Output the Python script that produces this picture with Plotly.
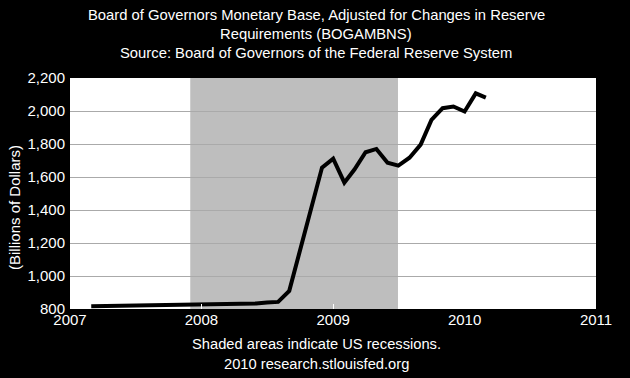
import plotly.graph_objects as go

dates = [
    "2007-03-01", "2007-04-01", "2007-05-01", "2007-06-01", "2007-07-01", "2007-08-01",
    "2007-09-01", "2007-10-01", "2007-11-01", "2007-12-01",
    "2008-01-01", "2008-02-01", "2008-03-01", "2008-04-01", "2008-05-01", "2008-06-01",
    "2008-07-01", "2008-08-01", "2008-09-01", "2008-10-01", "2008-11-01", "2008-12-01",
    "2009-01-01", "2009-02-01", "2009-03-01", "2009-04-01", "2009-05-01", "2009-06-01",
    "2009-07-01", "2009-08-01", "2009-09-01", "2009-10-01", "2009-11-01", "2009-12-01",
    "2010-01-01", "2010-02-01", "2010-03-01",
]
values = [
    817, 818, 819, 822, 822, 821, 823, 822, 824, 828,
    827, 826, 826, 828, 830, 834, 840, 843, 910, 1150, 1420, 1657,
    1711, 1566, 1645, 1750, 1770, 1687, 1669, 1717, 1796, 1946, 2017, 2027,
    1997, 2107, 2081,
]
recession_start = "2007-12-01"
recession_end = "2009-06-30"

x_tickvals = ["2007-01-01", "2008-01-01", "2009-01-01", "2010-01-01", "2011-01-01"]
x_ticktext = ["2007", "2008", "2009", "2010", "2011"]
y_tickvals = [800, 1000, 1200, 1400, 1600, 1800, 2000, 2200]
y_ticktext = ["800", "1,000", "1,200", "1,400", "1,600", "1,800", "2,000", "2,200"]

title_lines = [
    "Board of Governors Monetary Base, Adjusted for Changes in Reserve",
    "Requirements (BOGAMBNS)",
    "Source: Board of Governors of the Federal Reserve System",
]
footer_lines = ["Shaded areas indicate US recessions.", "2010 research.stlouisfed.org"]
y_title = "(Billions of Dollars)"

FONT = "Arial, Liberation Sans, sans-serif"

fig = go.Figure()
fig.add_trace(go.Scatter(
    x=dates, y=values, mode="lines",
    line=dict(color="black", width=4),
    hoverinfo="skip", showlegend=False,
))

fig.add_shape(type="rect", xref="x", yref="paper",
              x0=recession_start, x1=recession_end, y0=0, y1=1,
              fillcolor="#BEBEBE", line=dict(width=0), layer="between")

W, H = 630, 378
ml, mr, mt, mb = 70, 34, 78, 69
ph = H - mt - mb
pw = W - ml - mr

def py(ypix):
    return (H - mb - ypix) / ph

def px(xpix):
    return (xpix - ml) / pw

annotations = []
for t, yy in zip(title_lines, [15, 34, 53]):
    annotations.append(dict(text=t, x=px(316), xref="paper", y=py(yy), yref="paper",
                            xanchor="center", yanchor="middle", showarrow=False,
                            font=dict(family=FONT, size=14.8, color="white")))
for t, yy in zip(footer_lines, [344, 364]):
    annotations.append(dict(text=t, x=px(316), xref="paper", y=py(yy), yref="paper",
                            xanchor="center", yanchor="middle", showarrow=False,
                            font=dict(family=FONT, size=14.7, color="white")))
annotations.append(dict(text=y_title, x=px(14), xref="paper", y=py(208), yref="paper",
                        xanchor="center", yanchor="middle", showarrow=False, textangle=-90,
                        font=dict(family=FONT, size=15, color="white")))

fig.update_layout(
    width=W, height=H,
    margin=dict(l=ml, r=mr, t=mt, b=mb, pad=0),
    paper_bgcolor="black", plot_bgcolor="white",
    font=dict(family=FONT, size=15, color="white"),
    annotations=annotations,
    xaxis=dict(
        type="date", range=["2007-01-01", "2011-01-01"],
        tickmode="array", tickvals=x_tickvals, ticktext=x_ticktext,
        ticks="inside", tickcolor="white", ticklen=5, tickwidth=1,
        showgrid=False, zeroline=False, showline=False,
        tickfont=dict(family=FONT, size=15, color="white"),
        fixedrange=True,
    ),
    yaxis=dict(
        range=[800, 2200],
        tickmode="array", tickvals=y_tickvals, ticktext=y_ticktext,
        ticks="", showgrid=True, gridcolor="#AAAAAA", gridwidth=1,
        zeroline=False, showline=False,
        tickfont=dict(family=FONT, size=15, color="white"),
        ticklabelstandoff=4,
        fixedrange=True,
    ),
)

fig.write_html("out.html", config={"displayModeBar": False},
               post_script="document.body.style.margin='0';document.body.style.background='black';")
